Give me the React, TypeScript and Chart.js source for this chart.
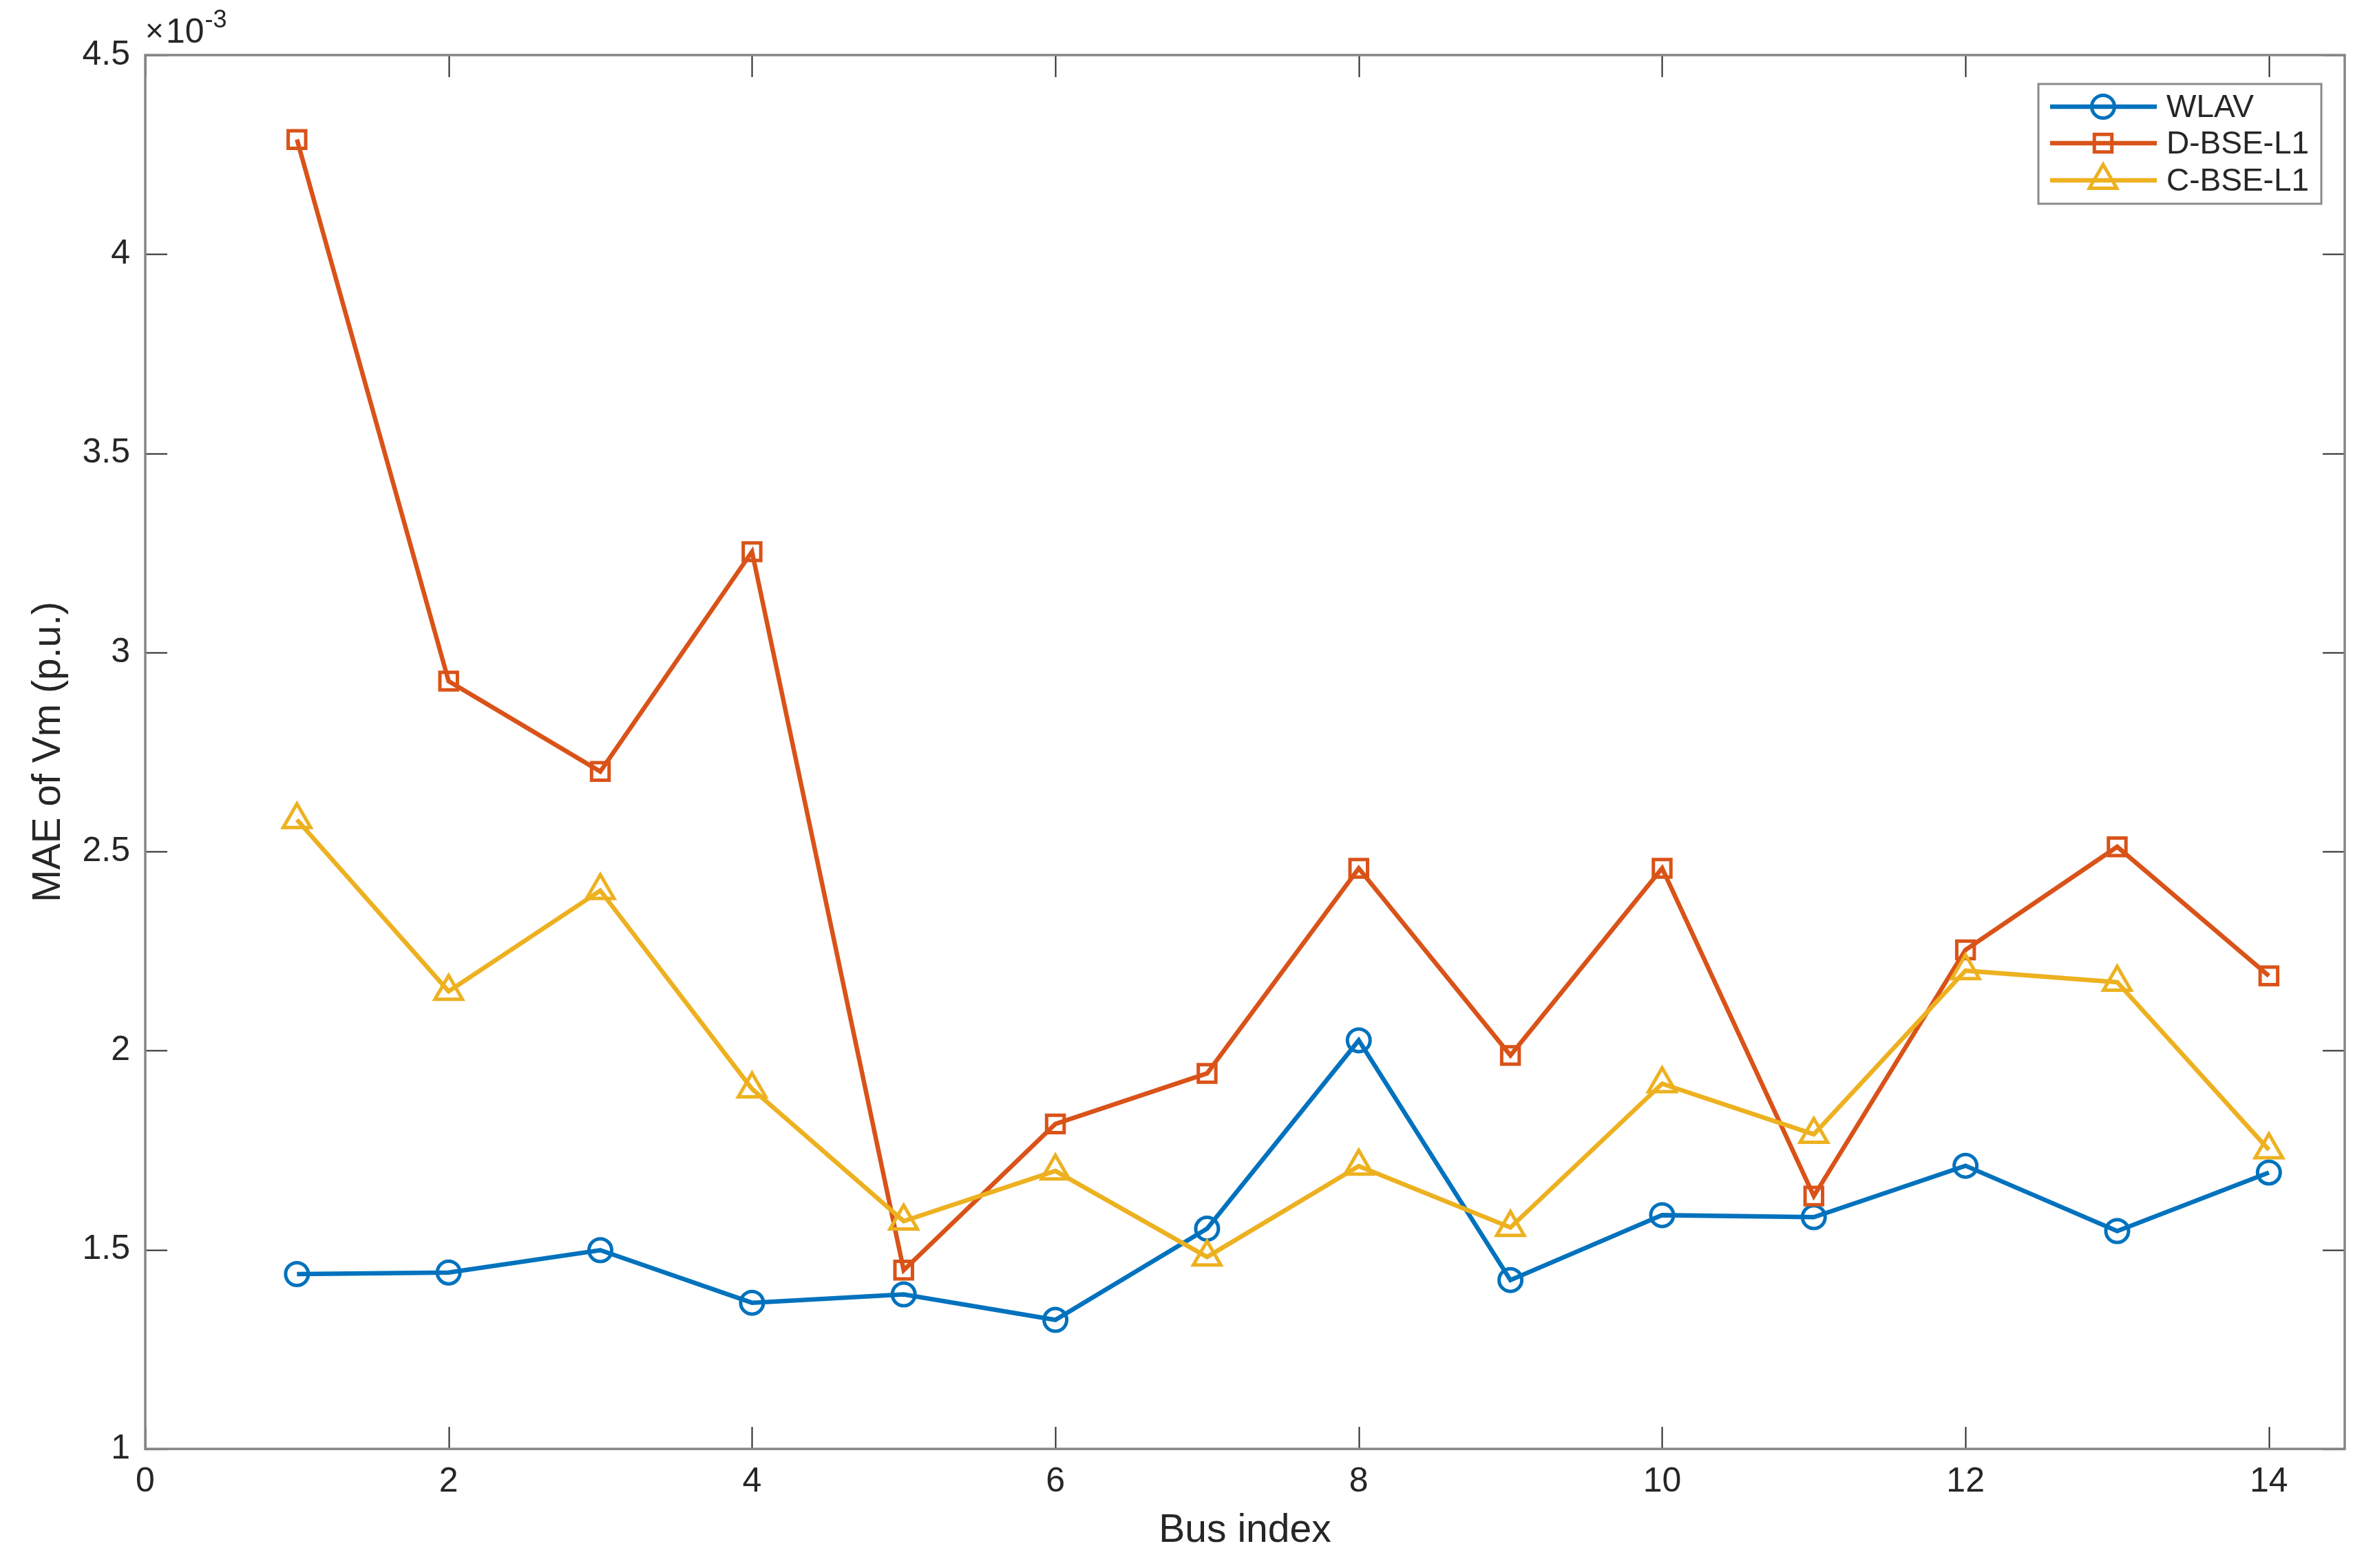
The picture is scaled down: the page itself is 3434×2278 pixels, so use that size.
import React, { useEffect, useRef } from "react";
import { Chart, registerables } from "chart.js";

Chart.register(...registerables);

const BUS = [1, 2, 3, 4, 5, 6, 7, 8, 9, 10, 11, 12, 13, 14];
const WLAV = [1.439, 1.443, 1.499, 1.367, 1.388, 1.324, 1.553, 2.026, 1.424, 1.587, 1.582, 1.711, 1.547, 1.694].map((v) => v * 1e-3);
const D_BSE_L1 = [4.288, 2.928, 2.701, 3.253, 1.449, 1.816, 1.943, 2.458, 1.988, 2.458, 1.635, 2.253, 2.512, 2.188].map((v) => v * 1e-3);
const C_BSE_L1 = [2.58, 2.149, 2.402, 1.904, 1.572, 1.698, 1.482, 1.71, 1.556, 1.917, 1.79, 2.201, 2.172, 1.751].map((v) => v * 1e-3);
const SERIES_NAMES = ["WLAV", "D-BSE-L1", "C-BSE-L1"];
const X_TICKS = [0, 2, 4, 6, 8, 10, 12, 14];
const Y_TICKS = [1, 1.5, 2, 2.5, 3, 3.5, 4, 4.5].map((v) => v * 1e-3);
const X_LABEL = "Bus index";
const Y_LABEL = "MAE of Vm (p.u.)";

const COLORS = ["#0072BD", "#D95319", "#EDB120"];
const STYLES = ["circle", "rect", "triangle"];
const RADII = [16.5, 18, 23];
const FONT = "'Liberation Sans', Arial, Helvetica, sans-serif";
const TICK_LEN = 32;
const LINE_W = 6.5;
const MARK_W = 5;

function drawMarker(ctx: CanvasRenderingContext2D, style: string, x: number, y: number, r: number) {
  ctx.beginPath();
  if (style === "circle") {
    ctx.arc(x, y, r, 0, Math.PI * 2);
  } else if (style === "rect") {
    const s = r * Math.SQRT1_2;
    ctx.rect(x - s, y - s, 2 * s, 2 * s);
  } else {
    for (let k = 0; k < 3; k++) {
      const a = (k * 2 * Math.PI) / 3;
      const px = x + Math.sin(a) * r;
      const py = y - Math.cos(a) * r;
      if (k === 0) ctx.moveTo(px, py);
      else ctx.lineTo(px, py);
    }
    ctx.closePath();
  }
  ctx.stroke();
}

const matlabPlugin = {
  id: "matlabBox",
  afterDatasetsDraw(chart: any) {
    const { ctx, chartArea: a, scales } = chart;
    const xs = scales.x;
    const ys = scales.y;
    ctx.save();
    // inward ticks on all four sides
    ctx.strokeStyle = "#262626";
    ctx.lineWidth = 2;
    ctx.beginPath();
    for (const v of X_TICKS) {
      const px = Math.round(xs.getPixelForValue(v)) + 0.5;
      ctx.moveTo(px, a.bottom);
      ctx.lineTo(px, a.bottom - TICK_LEN);
      ctx.moveTo(px, a.top);
      ctx.lineTo(px, a.top + TICK_LEN);
    }
    for (const v of Y_TICKS) {
      const py = Math.round(ys.getPixelForValue(v)) + 0.5;
      ctx.moveTo(a.left, py);
      ctx.lineTo(a.left + TICK_LEN, py);
      ctx.moveTo(a.right, py);
      ctx.lineTo(a.right - TICK_LEN, py);
    }
    ctx.stroke();
    // box
    ctx.strokeStyle = "#868686";
    ctx.lineWidth = 3.5;
    ctx.strokeRect(a.left, a.top, a.right - a.left, a.bottom - a.top);

    // exponent label
    ctx.fillStyle = "#262626";
    ctx.textBaseline = "alphabetic";
    ctx.textAlign = "left";
    ctx.font = `46px ${FONT}`;
    ctx.fillText("×", a.left, 60);
    ctx.font = `50px ${FONT}`;
    ctx.fillText("10", a.left + 30, 62);
    const w10 = ctx.measureText("10").width;
    ctx.font = `36px ${FONT}`;
    ctx.fillText("-3", a.left + 30 + w10 + 1, 40);

    // legend
    const lx = 2961, ly = 122, lw = 411, lh = 174;
    ctx.fillStyle = "#ffffff";
    ctx.fillRect(lx, ly, lw, lh);
    ctx.strokeStyle = "#8a8a8a";
    ctx.lineWidth = 3;
    ctx.strokeRect(lx, ly, lw, lh);
    const rows = [155, 208, 262];
    ctx.font = `46px ${FONT}`;
    ctx.textBaseline = "middle";
    SERIES_NAMES.forEach((name, i) => {
      const yy = rows[i];
      ctx.strokeStyle = COLORS[i];
      ctx.lineWidth = LINE_W;
      ctx.beginPath();
      ctx.moveTo(2978, yy);
      ctx.lineTo(3133, yy);
      ctx.stroke();
      ctx.lineWidth = MARK_W;
      drawMarker(ctx, STYLES[i], 3055, yy, RADII[i]);
      ctx.fillStyle = "#262626";
      ctx.fillText(name, 3147, yy + 2);
    });
    ctx.restore();
  },
};

export default function App() {
  const ref = useRef<HTMLCanvasElement | null>(null);
  useEffect(() => {
    document.body.style.margin = "0";
    const canvas = ref.current;
    if (!canvas) return;
    const seriesList = [WLAV, D_BSE_L1, C_BSE_L1];
    const chart = new Chart(canvas, {
      type: "line",
      data: {
        datasets: seriesList.map((vals, i) => ({
          label: SERIES_NAMES[i],
          data: BUS.map((b, j) => ({ x: b, y: vals[j] })),
          borderColor: COLORS[i],
          backgroundColor: "transparent",
          borderWidth: LINE_W,
          pointStyle: STYLES[i] as any,
          pointRadius: RADII[i],
          pointBorderWidth: MARK_W,
          pointBorderColor: COLORS[i],
          pointBackgroundColor: "rgba(0,0,0,0)",
          tension: 0,
          fill: false,
          order: 3 - i,
          clip: false as any,
        })),
      },
      options: {
        responsive: false,
        animation: false,
        events: [],
        layout: { padding: { top: 80, right: 21, left: 0, bottom: 0 } },
        plugins: { legend: { display: false }, tooltip: { enabled: false } },
        scales: {
          x: {
            type: "linear",
            min: 0,
            max: 14.5,
            grid: { display: false, drawTicks: false },
            border: { display: false },
            afterBuildTicks: (s: any) => {
              s.ticks = X_TICKS.map((v) => ({ value: v }));
            },
            afterFit: (s: any) => {
              s.height = 173;
            },
            ticks: {
              padding: 18,
              color: "#262626",
              font: { family: FONT, size: 50 },
              maxRotation: 0,
              callback: (v: any) => String(v),
            },
            title: {
              display: true,
              text: X_LABEL,
              color: "#262626",
              font: { family: FONT, size: 57 },
              padding: { top: 0, bottom: 20 },
            },
          },
          y: {
            type: "linear",
            min: 1e-3,
            max: 4.5e-3,
            grid: { display: false, drawTicks: false },
            border: { display: false },
            afterBuildTicks: (s: any) => {
              s.ticks = Y_TICKS.map((v) => ({ value: v }));
            },
            afterFit: (s: any) => {
              s.width = 211;
            },
            ticks: {
              padding: 22,
              color: "#262626",
              font: { family: FONT, size: 50 },
              callback: (v: any) => String(parseFloat((v * 1000).toFixed(2))),
            },
            title: {
              display: true,
              text: Y_LABEL,
              color: "#262626",
              font: { family: FONT, size: 57 },
              padding: { top: 37, bottom: 0 },
            },
          },
        },
      },
      plugins: [matlabPlugin],
    });
    return () => chart.destroy();
  }, []);
  return (
    <div style={{ position: "fixed", left: 0, top: 0, width: 3434, height: 2278, background: "#fff" }}>
      <canvas ref={ref} width={3434} height={2278} style={{ display: "block", width: 3434, height: 2278 }} />
    </div>
  );
}
